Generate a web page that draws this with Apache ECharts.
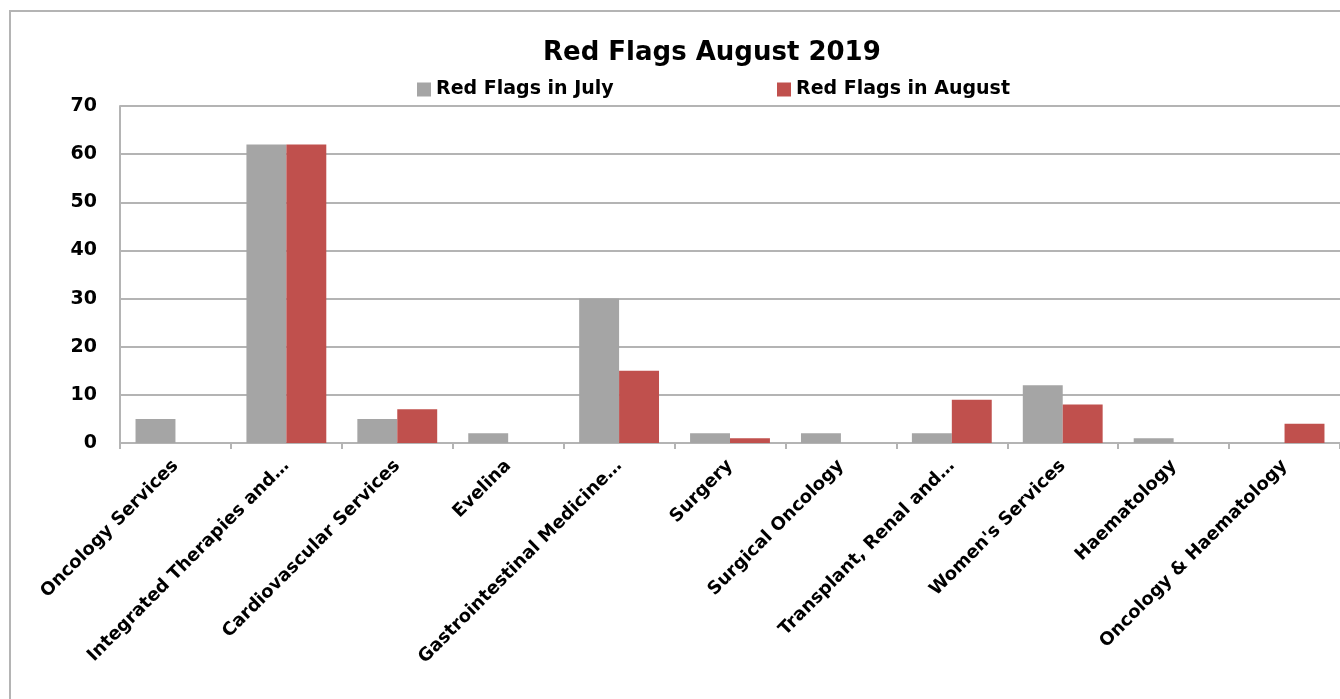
<!DOCTYPE html>
<html>
<head>
<meta charset="utf-8">
<script src="https://cdn.jsdelivr.net/npm/echarts@6/dist/echarts.min.js"></script>
<style>
html,body{margin:0;padding:0;background:#fff;}
#c{width:1340px;height:699px;}
</style>
</head>
<body>
<div id="c"></div>
<script>
var categories = ['Oncology Services','Integrated Therapies and…','Cardiovascular Services','Evelina','Gastrointestinal Medicine…','Surgery','Surgical Oncology','Transplant, Renal and…',"Women's Services",'Haematology','Oncology & Haematology'];
var julyValues = [5, 62, 5, 2, 30, 2, 2, 2, 12, 1, 0];
var augustValues = [0, 62, 7, 0, 15, 1, 0, 9, 8, 0, 4];
var yTicks = {min: 0, max: 70, interval: 10};
var FONT = '"DejaVu Sans"';

var chart = echarts.init(document.getElementById('c'));
chart.setOption({
  animation: false,
  textStyle: {fontFamily: FONT},
  title: {
    text: 'Red Flags August 2019',
    left: 538, top: 35,
    textStyle: {fontFamily: FONT, fontWeight: 'bold', fontSize: 26, color: '#000'}
  },
  legend: [{
    data: ['Red Flags in July'],
    left: 417, top: 80, padding: 0, itemGap: 0,
    itemWidth: 14, itemHeight: 14, icon: 'rect',
    textStyle: {fontFamily: FONT, fontWeight: 'bold', fontSize: 19, color: '#000'}
  }, {
    data: ['Red Flags in August'],
    left: 777, top: 80, padding: 0, itemGap: 0,
    itemWidth: 14, itemHeight: 14, icon: 'rect',
    textStyle: {fontFamily: FONT, fontWeight: 'bold', fontSize: 19, color: '#000'}
  }],
  graphic: [{
    type: 'rect', silent: true, z: -1,
    shape: {x: 10, y: 11, width: 1340, height: 700},
    style: {fill: 'none', stroke: '#b4b4b4', lineWidth: 2}
  }],
  grid: {left: 120, right: 0, top: 106, bottom: 256, containLabel: false},
  xAxis: {
    type: 'category',
    data: categories,
    boundaryGap: true,
    axisLine: {lineStyle: {color: '#b4b4b4', width: 2}},
    axisTick: {show: true, length: 6, lineStyle: {color: '#b4b4b4', width: 2}},
    axisLabel: {interval: 0, rotate: 45, margin: 20, fontFamily: FONT, fontWeight: 'bold', fontSize: 18, color: '#000'}
  },
  yAxis: {
    type: 'value',
    min: yTicks.min, max: yTicks.max, interval: yTicks.interval,
    axisLine: {show: true, lineStyle: {color: '#b4b4b4', width: 2}},
    axisTick: {show: false},
    splitLine: {lineStyle: {color: '#b4b4b4', width: 2}},
    axisLabel: {margin: 23, fontFamily: FONT, fontWeight: 'bold', fontSize: 19, color: '#000'}
  },
  series: [{
    name: 'Red Flags in July', type: 'bar', data: julyValues,
    itemStyle: {color: '#a5a5a5'},
    barGap: '0%', barCategoryGap: '28%'
  }, {
    name: 'Red Flags in August', type: 'bar', data: augustValues,
    itemStyle: {color: '#c0504d'},
    barGap: '0%', barCategoryGap: '28%'
  }]
});
</script>
</body>
</html>
